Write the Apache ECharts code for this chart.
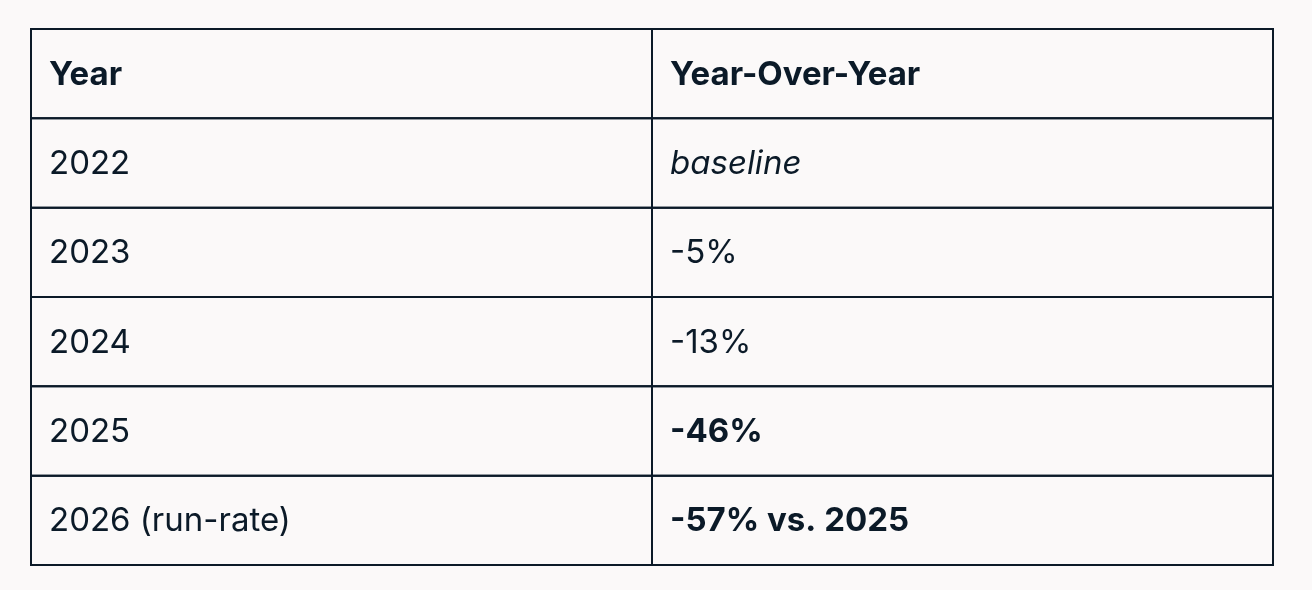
<!DOCTYPE html>
<html lang="en">

<head>
    <meta charset="UTF-8">
    <title>Year-Over-Year</title>
    <script src="https://cdn.jsdelivr.net/npm/echarts@6/dist/echarts.min.js"></script>
    <style>
        html, body { margin: 0; padding: 0; background: #fbf9f9; }
        #main { width: 1312px; height: 590px; }
    </style>
</head>

<body>
    <div id="main"></div>
    <script>
        // table content
        var headers = ['Year', 'Year-Over-Year'];
        var years = ['2022', '2023', '2024', '2025', '2026 (run-rate)'];
        var yoy = ['baseline', '-5%', '-13%', '-46%', '-57% vs. 2025'];
        // font style per yoy cell: n = normal, i = italic, b = bold
        var yoyStyle = ['i', 'n', 'n', 'b', 'b'];

        var ink = '#0b1a28';

        // one data item per cell: [col, row, text, style]
        var cells = [];
        cells.push([0, 0, headers[0], 'h']);
        cells.push([1, 0, headers[1], 'h']);
        for (var i = 0; i < years.length; i++) {
            cells.push([0, i + 1, years[i], 'n']);
            cells.push([1, i + 1, yoy[i], yoyStyle[i]]);
        }

        var chart = echarts.init(document.getElementById('main'));
        var option = {
            backgroundColor: '#fbf9f9',
            animation: false,
            grid: {
                left: 31,
                right: 39,
                top: 29,
                bottom: 25
            },
            xAxis: {
                type: 'value',
                min: 0,
                max: 2,
                show: false
            },
            yAxis: {
                type: 'value',
                min: 0,
                max: years.length + 1,
                inverse: true,
                show: false
            },
            series: [
                {
                    type: 'custom',
                    data: cells,
                    renderItem: function (params, api) {
                        var c = api.value(0);
                        var r = api.value(1);
                        var p0 = api.coord([c, r]);
                        var p1 = api.coord([c + 1, r + 1]);
                        var st = cells[params.dataIndex][3];
                        var txt = cells[params.dataIndex][2];
                        return {
                            type: 'group',
                            children: [
                                {
                                    type: 'rect',
                                    shape: { x: p0[0], y: p0[1], width: p1[0] - p0[0], height: p1[1] - p0[1] },
                                    style: { fill: 'transparent', stroke: ink, lineWidth: 2 }
                                },
                                {
                                    type: 'text',
                                    x: p0[0] + 18,
                                    y: (p0[1] + p1[1]) / 2 + 1,
                                    style: {
                                        text: txt,
                                        fill: ink,
                                        font: (st === 'i' ? 'italic ' : '') +
                                            (st === 'h' || st === 'b' ? '700 ' : '400 ') +
                                            '33px Inter, sans-serif',
                                        textVerticalAlign: 'middle',
                                        textAlign: 'left'
                                    }
                                }
                            ]
                        };
                    }
                }
            ]
        };
        chart.setOption(option);
    </script>
</body>

</html>
